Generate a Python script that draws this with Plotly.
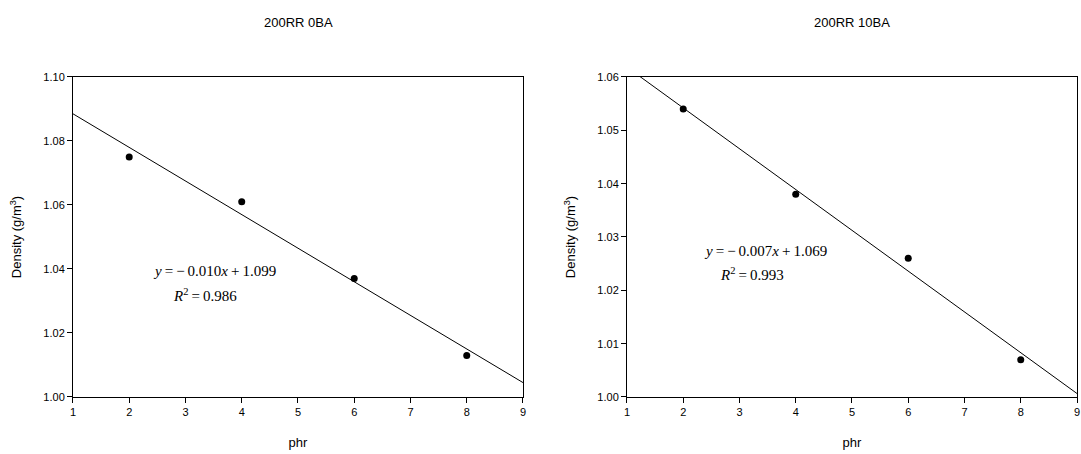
import numpy as np
import plotly.graph_objects as go

# Density vs. phr for two formulations
phr = [2, 4, 6, 8]
density_0ba = [1.075, 1.061, 1.037, 1.013]
density_10ba = [1.054, 1.038, 1.026, 1.007]

titles = ["200RR 0BA", "200RR 10BA"]
TS = "\u2009"  # thin space used around operators
eq_text = [f"<i>y</i>{TS}={TS}\u2212{TS}0.010<i>x</i>{TS}+{TS}1.099",
           f"<i>y</i>{TS}={TS}\u2212{TS}0.007<i>x</i>{TS}+{TS}1.069"]
r2_text = [f"<i>R</i><sup style='font-size:70%'>2</sup>{TS}={TS}0.986",
           f"<i>R</i><sup style='font-size:70%'>2</sup>{TS}={TS}0.993"]

x_range = [1, 9]
y_ranges = [[1.0, 1.1], [1.0, 1.06]]
y_dticks = [0.02, 0.01]

fig = go.Figure()

x_domains = [[0.0675, 0.4838], [0.5800, 0.9963]]
y_domain = [0.1256, 0.8304]

series = [density_0ba, density_10ba]
for i, dens in enumerate(series):
    xa = "x" if i == 0 else "x2"
    ya = "y" if i == 0 else "y2"
    # least-squares regression line over the full axis span
    slope, intercept = np.polyfit(phr, dens, 1)
    xl = np.array(x_range, dtype=float)
    fig.add_trace(go.Scatter(x=xl, y=slope * xl + intercept, mode="lines",
                             line=dict(color="black", width=1),
                             xaxis=xa, yaxis=ya, showlegend=False,
                             cliponaxis=True))
    fig.add_trace(go.Scatter(x=phr, y=dens, mode="markers",
                             marker=dict(color="black", size=7),
                             xaxis=xa, yaxis=ya, showlegend=False))

axis_common = dict(showgrid=False, zeroline=False, showline=True,
                   linecolor="black", linewidth=1, mirror=True,
                   ticks="outside", ticklen=5, tickcolor="black",
                   tickfont=dict(family="Liberation Sans, Arial", size=11, color="black"),
                   automargin=False)

for i in range(2):
    sfx = "" if i == 0 else "2"
    fig.layout["xaxis" + sfx] = dict(axis_common, domain=x_domains[i], range=x_range,
                                     dtick=1, tick0=1, anchor="y" + sfx,
                                     title=dict(text="phr", standoff=20,
                                                font=dict(family="Liberation Sans, Arial", size=13, color="black")))
    fig.layout["yaxis" + sfx] = dict(axis_common, domain=y_domain, range=y_ranges[i],
                                     dtick=y_dticks[i], tick0=1.0, tickformat=".2f",
                                     anchor="x" + sfx,
                                     title=dict(text="Density (g/m<sup>3</sup>)", standoff=18,
                                                font=dict(family="Liberation Sans, Arial", size=13, color="black")))

annotations = []
title_x = [298, 852]
eq_pos = [(214, 271, 205, 295), (765, 251, 752, 274)]
W, H = 1081, 454
for i in range(2):
    annotations.append(dict(text=titles[i], x=title_x[i] / W, y=1 - 22 / H,
                            xref="paper", yref="paper", showarrow=False,
                            xanchor="center", yanchor="middle",
                            font=dict(family="Liberation Sans, Arial", size=13, color="black")))
    ex, ey, rx, ry = eq_pos[i]
    annotations.append(dict(text=eq_text[i], x=ex / W, y=1 - ey / H,
                            xref="paper", yref="paper", showarrow=False,
                            xanchor="center", yanchor="middle",
                            font=dict(family="Liberation Serif, Times New Roman", size=15, color="black")))
    annotations.append(dict(text=r2_text[i], x=rx / W, y=1 - ry / H,
                            xref="paper", yref="paper", showarrow=False,
                            xanchor="center", yanchor="middle",
                            font=dict(family="Liberation Serif, Times New Roman", size=15, color="black")))

fig.update_layout(width=W, height=H, margin=dict(l=0, r=0, t=0, b=0),
                  paper_bgcolor="white", plot_bgcolor="white",
                  annotations=annotations, showlegend=False)

fig.write_html("out.html")
